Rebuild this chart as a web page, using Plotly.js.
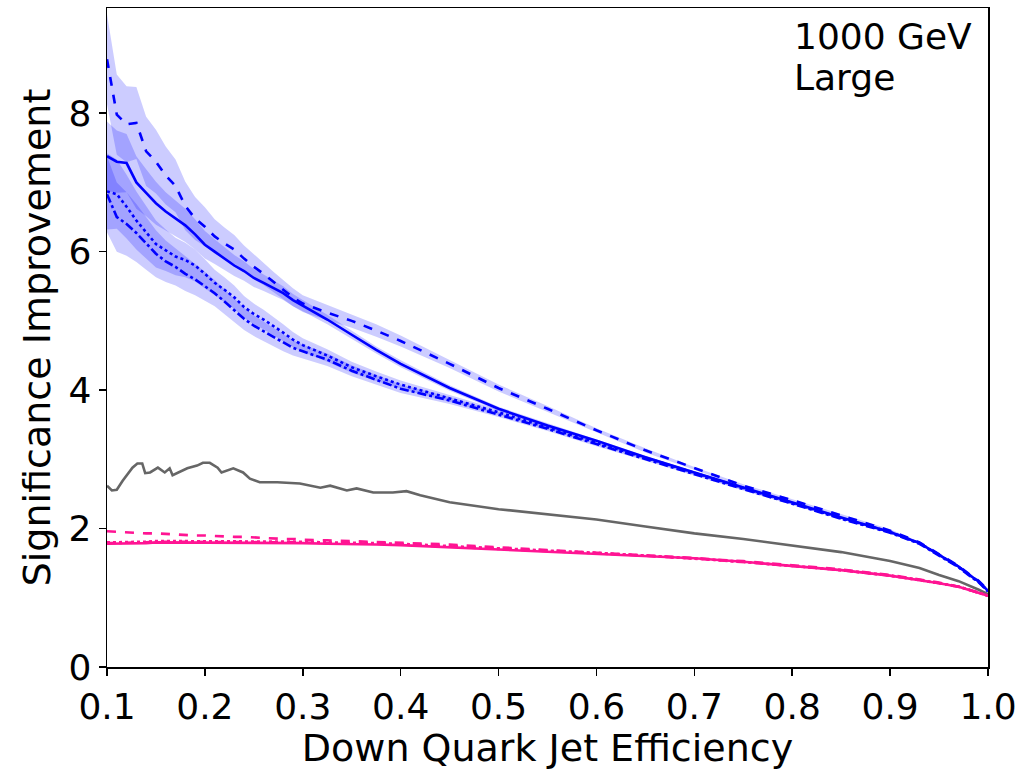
<!DOCTYPE html>
<html>
<head>
<meta charset="utf-8">
<script src="https://cdn.plot.ly/plotly-3.0.1.min.js"></script>
<style>html,body{margin:0;padding:0;background:#fff;}#chart{width:1025px;height:770px;}</style>
</head>
<body>
<div id="chart"></div>
<script>
// Shared efficiency grid
const eff = [0.10,0.11,0.12,0.13,0.14,0.15,0.16,0.17,0.18,0.19,0.20,0.21,0.22,0.23,0.24,0.25,0.26,0.27,0.28,0.29,0.30,0.325,0.35,0.375,0.40,0.45,0.50,0.55,0.60,0.65,0.70,0.75,0.80,0.85,0.90,0.93,0.95,0.97,0.98,0.99,1.00];

// Blue curves
const blueDashed = [8.78,7.98,7.84,7.86,7.45,7.30,7.10,6.95,6.66,6.48,6.36,6.22,6.12,6.03,5.90,5.78,5.68,5.56,5.45,5.34,5.25,5.12,5.00,4.86,4.71,4.38,4.03,3.73,3.42,3.13,2.87,2.62,2.41,2.19,1.97,1.80,1.63,1.46,1.35,1.25,1.11];
const blueSolid = [7.38,7.30,7.28,7.00,6.85,6.70,6.58,6.48,6.38,6.25,6.10,6.00,5.90,5.80,5.72,5.62,5.55,5.48,5.40,5.30,5.22,5.02,4.80,4.58,4.38,4.03,3.73,3.49,3.27,3.03,2.81,2.59,2.38,2.16,1.95,1.79,1.62,1.45,1.34,1.24,1.10];
const blueDotted = [6.87,6.83,6.65,6.45,6.28,6.11,6.02,5.93,5.88,5.80,5.68,5.55,5.45,5.34,5.20,5.10,5.02,4.93,4.83,4.73,4.65,4.50,4.33,4.20,4.08,3.88,3.68,3.46,3.24,3.02,2.80,2.58,2.37,2.15,1.95,1.79,1.62,1.45,1.34,1.24,1.10];
const blueDashDot = [6.83,6.50,6.40,6.27,6.12,5.97,5.86,5.78,5.68,5.60,5.50,5.40,5.28,5.15,5.03,4.93,4.85,4.76,4.68,4.61,4.56,4.44,4.28,4.15,4.02,3.85,3.65,3.44,3.22,3.00,2.79,2.57,2.36,2.14,1.94,1.78,1.61,1.44,1.33,1.23,1.09];

// Uncertainty half-widths
const errDashed = [0.65,0.58,0.55,0.52,0.50,0.46,0.42,0.38,0.35,0.31,0.28,0.25,0.23,0.21,0.19,0.18,0.16,0.15,0.14,0.13,0.12,0.11,0.10,0.09,0.08,0.06,0.05,0.04,0.03,0.03,0.02,0.02,0.02,0.02,0.02,0.01,0.01,0.01,0.01,0.01,0.01];
const errSolid = [0.50,0.45,0.42,0.38,0.34,0.31,0.28,0.26,0.24,0.22,0.20,0.18,0.16,0.15,0.14,0.13,0.12,0.11,0.10,0.09,0.08,0.07,0.06,0.05,0.05,0.04,0.03,0.03,0.02,0.02,0.02,0.02,0.01,0.01,0.01,0.01,0.01,0.01,0.01,0.01,0.01];
const errDotted = [0.55,0.50,0.46,0.42,0.38,0.34,0.30,0.27,0.25,0.23,0.21,0.19,0.18,0.17,0.16,0.15,0.14,0.13,0.12,0.11,0.10,0.09,0.08,0.07,0.06,0.05,0.04,0.03,0.03,0.02,0.02,0.02,0.02,0.01,0.01,0.01,0.01,0.01,0.01,0.01,0.01];
const errDashDot = [0.55,0.50,0.46,0.42,0.38,0.34,0.30,0.27,0.25,0.23,0.21,0.19,0.18,0.17,0.16,0.15,0.14,0.13,0.12,0.11,0.10,0.09,0.08,0.07,0.06,0.05,0.04,0.03,0.03,0.02,0.02,0.02,0.02,0.01,0.01,0.01,0.01,0.01,0.01,0.01,0.01];

// Magenta curves
const pinkSolid = [1.78,1.78,1.79,1.79,1.79,1.80,1.80,1.80,1.80,1.80,1.80,1.80,1.80,1.80,1.80,1.80,1.80,1.79,1.79,1.79,1.79,1.78,1.78,1.77,1.76,1.73,1.70,1.67,1.64,1.61,1.57,1.52,1.46,1.40,1.32,1.26,1.21,1.16,1.12,1.08,1.03];
const pinkDashed = [1.96,1.95,1.95,1.94,1.93,1.93,1.92,1.92,1.91,1.90,1.90,1.89,1.89,1.88,1.88,1.87,1.86,1.86,1.85,1.85,1.84,1.83,1.82,1.81,1.80,1.77,1.73,1.69,1.65,1.62,1.58,1.53,1.47,1.41,1.33,1.27,1.22,1.16,1.12,1.08,1.03];
const pinkDotted = [1.80,1.80,1.81,1.81,1.81,1.82,1.82,1.82,1.82,1.82,1.82,1.82,1.82,1.82,1.82,1.82,1.82,1.81,1.81,1.81,1.81,1.80,1.80,1.79,1.78,1.75,1.71,1.68,1.65,1.61,1.57,1.52,1.46,1.40,1.32,1.26,1.21,1.16,1.12,1.08,1.03];
const pinkDashDot = [1.79,1.79,1.80,1.80,1.80,1.81,1.81,1.81,1.81,1.81,1.81,1.81,1.81,1.81,1.81,1.81,1.81,1.80,1.80,1.80,1.80,1.79,1.79,1.78,1.77,1.74,1.71,1.67,1.64,1.61,1.57,1.52,1.46,1.40,1.32,1.26,1.21,1.16,1.12,1.08,1.03];

// Gray curve (own grid)
const grayEff = [0.100,0.105,0.110,0.116,0.126,0.131,0.136,0.139,0.144,0.152,0.159,0.164,0.167,0.173,0.182,0.192,0.198,0.205,0.213,0.217,0.229,0.239,0.246,0.256,0.274,0.297,0.318,0.328,0.345,0.355,0.372,0.392,0.406,0.420,0.433,0.450,0.50,0.55,0.60,0.65,0.70,0.75,0.80,0.85,0.90,0.93,0.95,0.97,0.99,1.00];
const grayVal = [2.62,2.55,2.56,2.69,2.88,2.94,2.94,2.80,2.81,2.88,2.81,2.87,2.77,2.81,2.87,2.91,2.95,2.95,2.88,2.81,2.87,2.81,2.72,2.67,2.67,2.65,2.59,2.62,2.55,2.58,2.52,2.52,2.54,2.48,2.44,2.38,2.28,2.21,2.13,2.03,1.93,1.85,1.76,1.66,1.53,1.43,1.33,1.24,1.12,1.05];

const tickVals = [0.1,0.2,0.3,0.4,0.5,0.6,0.7,0.8,0.9,1.0];
const tickText = ["0.1","0.2","0.3","0.4","0.5","0.6","0.7","0.8","0.9","1.0"];
const yTickVals = [0,2,4,6,8];
const labelText = ["1000 GeV","Large"];

const BLUE = "#0000ff";
const PINK = "#ff1493";
const GRAY = "#666666";
const FONT = "DejaVu Sans";

function band(vals, errs) {
  const up = vals.map((v,i)=>v+errs[i]);
  const lo = vals.map((v,i)=>v-errs[i]);
  return {
    x: eff.concat(eff.slice().reverse()),
    y: up.concat(lo.slice().reverse()),
    type: "scatter", mode: "lines", fill: "toself",
    fillcolor: "rgba(0,0,255,0.2)", line: {width: 0, color: "rgba(0,0,0,0)"},
    hoverinfo: "skip", showlegend: false
  };
}
function line(x, y, color, dash) {
  return {x: x, y: y, type: "scatter", mode: "lines",
    line: {color: color, width: 2.6, dash: dash}, showlegend: false};
}

const traces = [
  band(blueDashed, errDashed),
  band(blueSolid, errSolid),
  band(blueDotted, errDotted),
  band(blueDashDot, errDashDot),
  line(eff, blueDashed, BLUE, "dash"),
  line(eff, blueSolid, BLUE, "solid"),
  line(eff, blueDotted, BLUE, "dot"),
  line(eff, blueDashDot, BLUE, "dashdot"),
  line(grayEff, grayVal, GRAY, "solid"),
  line(eff, pinkDashed, PINK, "dash"),
  line(eff, pinkDotted, PINK, "dot"),
  line(eff, pinkDashDot, PINK, "dashdot"),
  line(eff, pinkSolid, PINK, "solid")
];

const layout = {
  width: 1025, height: 770,
  margin: {l: 107, r: 37, t: 8, b: 103},
  paper_bgcolor: "#fff", plot_bgcolor: "#fff",
  font: {family: FONT, color: "#000", size: 36},
  xaxis: {
    range: [0.1, 1.0], tickvals: tickVals, ticktext: tickText,
    showgrid: false, zeroline: false, showline: true, mirror: true,
    linecolor: "#000", linewidth: 1.5, ticks: "outside", ticklen: 7, tickwidth: 1.5, tickcolor: "#000",
    tickfont: {family: FONT, size: 36},
    title: {text: "Down Quark Jet Efficiency", font: {family: FONT, size: 38}, standoff: 9},
    automargin: false
  },
  yaxis: {
    range: [0, 9.52], tickvals: yTickVals,
    showgrid: false, zeroline: false, showline: true, mirror: true,
    linecolor: "#000", linewidth: 1.5, ticks: "outside", ticklen: 7, tickwidth: 1.5, tickcolor: "#000",
    tickfont: {family: FONT, size: 36},
    title: {text: "Significance Improvement", font: {family: FONT, size: 38}, standoff: 6},
    automargin: false
  },
  annotations: [
    {text: labelText[0], xref: "paper", yref: "paper", x: 0.777, y: 0.956, xanchor: "left", yanchor: "middle", showarrow: false, font: {family: FONT, size: 36, color: "#000"}},
    {text: labelText[1], xref: "paper", yref: "paper", x: 0.777, y: 0.895, xanchor: "left", yanchor: "middle", showarrow: false, font: {family: FONT, size: 36, color: "#000"}}
  ]
};

Plotly.newPlot("chart", traces, layout, {staticPlot: true, displayModeBar: false});
</script>
</body>
</html>
